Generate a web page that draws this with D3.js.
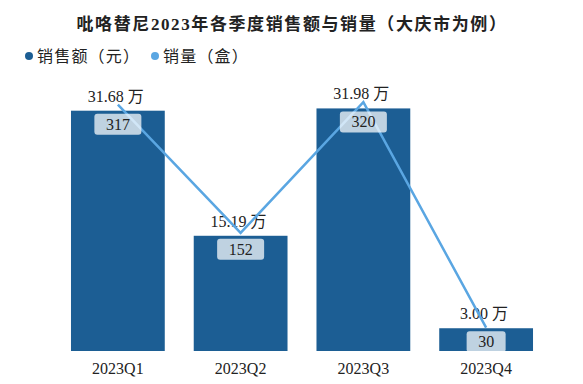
<!doctype html>
<html>
<head>
<meta charset="UTF-8" />
<script src="https://d3js.org/d3.v7.min.js"></script>
<style type="text/css">
body {
	margin: 0;
	background: #fff;
}
svg text {
	font-family: "Liberation Serif", "Noto Sans CJK SC", serif;
	fill: #222;
}
</style>
</head>
<body>
<script>
	var quarters = ["2023Q1", "2023Q2", "2023Q3", "2023Q4"];
	var sales = [31.68, 15.19, 31.98, 3.00];   // 万元
	var volume = [317, 152, 320, 30];          // 盒

	var width = 583, height = 384;
	var barColor = "#1c5e94", lineColor = "#5aa6e2";

	var svg = d3.select("body").append("svg")
		.attr("width", width)
		.attr("height", height);

	var x = d3.scaleBand()
		.domain(quarters)
		.range([56.5, 547.5])
		.paddingInner(0.236)
		.paddingOuter(0.118);

	var ySales = d3.scaleLinear()
		.domain([0, 41])
		.range([351, 40]);

	var yVol = d3.scaleLinear()
		.domain([0, 400])
		.range([351, 40]);

	// title
	svg.append("text")
		.attr("x", 292)
		.attr("y", 30)
		.attr("text-anchor", "middle")
		.style("font-size", "17px")
		.style("font-weight", "bold")
		.style("letter-spacing", "1.6px")
		.text("吡咯替尼2023年各季度销售额与销量（大庆市为例）");

	// legend
	var legend = [{name: "销售额（元）", color: barColor, x: 29},
		{name: "销量（盒）", color: lineColor, x: 155}];
	var lg = svg.selectAll("g.legend").data(legend).enter().append("g")
		.attr("class", "legend")
		.attr("transform", function(d) { return "translate(" + d.x + ",56)"; });
	lg.append("circle").attr("r", 4).attr("fill", function(d) { return d.color; });
	lg.append("text")
		.attr("x", 8)
		.attr("y", 5.5)
		.style("font-size", "16px")
		.style("letter-spacing", "1.2px")
		.text(function(d) { return d.name; });

	// bars
	svg.selectAll("rect.bar").data(quarters).enter().append("rect")
		.attr("class", "bar")
		.attr("x", function(d) { return x(d); })
		.attr("width", x.bandwidth())
		.attr("y", function(d, i) { return ySales(sales[i]); })
		.attr("height", function(d, i) { return ySales(0) - ySales(sales[i]); })
		.attr("fill", barColor);

	// sales labels
	svg.selectAll("text.sales").data(quarters).enter().append("text")
		.attr("class", "sales")
		.attr("x", function(d) { return x(d) + x.bandwidth() / 2 - 2; })
		.attr("y", function(d, i) { return ySales(sales[i]) - 9; })
		.attr("text-anchor", "middle")
		.style("font-size", "16px")
		.text(function(d, i) { return sales[i].toFixed(2) + " 万"; });

	// volume line
	var line = d3.line()
		.x(function(d, i) { return x(quarters[i]) + x.bandwidth() / 2; })
		.y(function(d) { return yVol(d); });

	svg.append("path")
		.datum(volume)
		.attr("d", line)
		.attr("fill", "none")
		.attr("stroke", lineColor)
		.attr("stroke-width", 2.5);

	// volume boxes
	var vb = svg.selectAll("g.vol").data(quarters).enter().append("g")
		.attr("class", "vol")
		.attr("transform", function(d, i) {
			return "translate(" + (x(d) + x.bandwidth() / 2) + "," + (ySales(sales[i]) + 3) + ")";
		});
	vb.append("rect")
		.attr("x", function(d, i) { return volume[i] >= 100 ? -23.5 : -19.5; })
		.attr("width", function(d, i) { return volume[i] >= 100 ? 47 : 39; })
		.attr("height", 21)
		.attr("rx", 3)
		.attr("fill", "#fff")
		.attr("fill-opacity", 0.72);
	vb.append("text")
		.attr("y", 16)
		.attr("text-anchor", "middle")
		.style("font-size", "16px")
		.text(function(d, i) { return volume[i]; });

	// x labels
	svg.selectAll("text.xlab").data(quarters).enter().append("text")
		.attr("class", "xlab")
		.attr("x", function(d) { return x(d) + x.bandwidth() / 2; })
		.attr("y", 374)
		.attr("text-anchor", "middle")
		.style("font-size", "16px")
		.text(function(d) { return d; });
</script>
</body>
</html>
